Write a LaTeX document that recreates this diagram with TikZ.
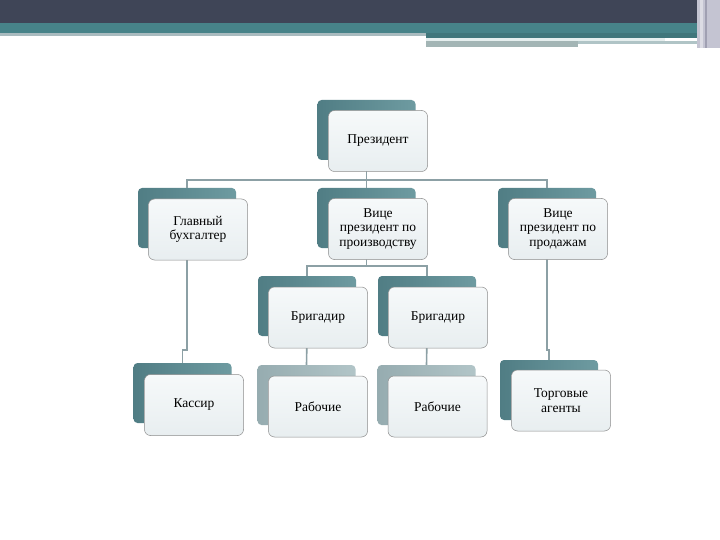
\documentclass[tikz,border=0pt]{standalone}
\usepackage{fontspec}
\setmainfont{Liberation Serif}
\usepackage{tikz}
\usetikzlibrary{positioning}

\definecolor{headdark}{RGB}{63,69,87}
\definecolor{headteal}{RGB}{71,131,137}
\definecolor{headgray}{RGB}{169,187,191}
\definecolor{headwhite}{RGB}{229,238,238}
\definecolor{headmid}{RGB}{163,181,181}
\definecolor{headpale}{RGB}{176,196,198}
\definecolor{headlav}{RGB}{196,196,210}
\definecolor{headlavlt}{RGB}{220,220,228}
\definecolor{headlavdk}{RGB}{160,160,178}
\definecolor{tealdark}{RGB}{80,125,132}
\definecolor{teallight}{RGB}{110,155,161}
\definecolor{paledark}{RGB}{150,172,176}
\definecolor{palelight}{RGB}{178,197,200}
\definecolor{connline}{RGB}{140,160,165}
\definecolor{frontedge}{RGB}{140,140,140}
\definecolor{fronttop}{RGB}{246,249,250}
\definecolor{frontlow}{RGB}{232,238,240}

\tikzset{
  backbox/.style={rectangle, rounded corners=4pt, minimum width=98pt, minimum height=60pt,
    left color=tealdark, right color=teallight, draw=none},
  paleback/.style={backbox, left color=paledark, right color=palelight},
  frontbox/.style={rectangle, rounded corners=6pt, minimum width=99pt, minimum height=61pt,
    draw=frontedge, line width=0.5pt, top color=fronttop, bottom color=frontlow,
    align=center, font=\fontsize{13.5}{14.5}\selectfont, text=black},
  conn/.style={draw=connline, line width=1.6pt}
}

\begin{document}
\begin{tikzpicture}[x=1pt,y=-1pt]
  \useasboundingbox (0,0) rectangle (720,540);

  % header bands
  \fill[headdark] (0,0) rectangle (720,23);
  \fill[headteal] (0,23) rectangle (697,33);
  \fill[headgray] (0,33) rectangle (426,36);
  \fill[headteal!90!black] (426,33) rectangle (697,38);
  \fill[headwhite] (426,38) rectangle (665,41);
  \fill[headmid] (426,41) rectangle (578,47);
  \fill[headpale] (578,41) rectangle (697,44);
  \fill[headlav] (697,0) rectangle (720,48);
  \fill[headlavlt] (700,0) rectangle (703,48);
  \fill[headlavdk] (705,0) rectangle (707,48);

  % back boxes
  \node[backbox] (prezB) at (366.5,130) {};
  \node[backbox] (glavB) at (187,218) {};
  \node[backbox] (vpProdB) at (366.5,218) {};
  \node[backbox] (vpSaleB) at (547,218) {};
  \node[backbox] (brigAB) at (307,306) {};
  \node[backbox] (brigBB) at (427,306) {};
  \node[backbox] (kassB) at (182.5,393) {};
  \node[paleback] (rabAB) at (306.5,395) {};
  \node[paleback] (rabBB) at (426.5,395) {};
  \node[backbox] (torgB) at (549,390) {};

  % connectors
  \draw[conn] (prezB.south) -- ++(0,20) -| (glavB.north);
  \draw[conn] (prezB.south) -- ++(0,20) -| (vpProdB.north);
  \draw[conn] (prezB.south) -- ++(0,20) -| (vpSaleB.north);
  \draw[conn] (vpProdB.south) -- ++(0,18) -| (brigAB.north);
  \draw[conn] (vpProdB.south) -- ++(0,18) -| (brigBB.north);
  \draw[conn] (glavB.south) -- ++(0,102) -| (kassB.north);
  \draw[conn] (brigAB.south) -- (rabAB.north);
  \draw[conn] (brigBB.south) -- (rabBB.north);
  \draw[conn] (vpSaleB.south) -- ++(0,102) -| (torgB.north);

  % front boxes
  \node[frontbox] (prez) at (378,141) {Президент};
  \node[frontbox] (glav) at (198,229.5) {Главный\\бухгалтер};
  \node[frontbox] (vpProd) at (378,229) {Вице\\президент по\\производству};
  \node[frontbox] (vpSale) at (558,229) {Вице\\президент по\\продажам};
  \node[frontbox] (brigA) at (318,317.5) {Бригадир};
  \node[frontbox] (brigB) at (438,317.5) {Бригадир};
  \node[frontbox] (kass) at (194,405) {Кассир};
  \node[frontbox] (rabA) at (318,406.5) {Рабочие};
  \node[frontbox] (rabB) at (437.5,406.5) {Рабочие};
  \node[frontbox] (torg) at (561,400.5) {Торговые\\агенты};
\end{tikzpicture}
\end{document}
